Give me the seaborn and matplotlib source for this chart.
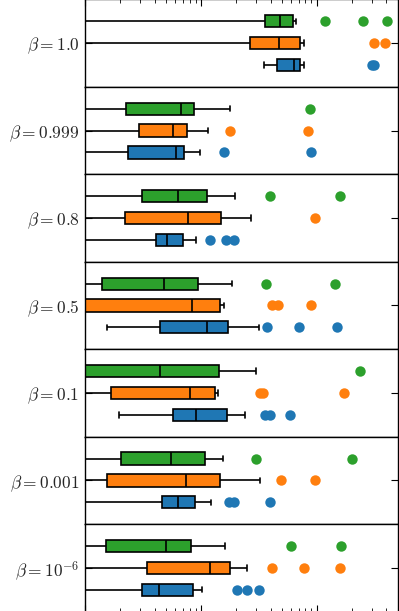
import matplotlib
matplotlib.use("Agg")
import matplotlib.pyplot as plt
import pandas as pd
import seaborn as sns

# one row of boxes per beta, top to bottom
betas = [r"$\beta = 1.0$", r"$\beta = 0.999$", r"$\beta = 0.8$", r"$\beta = 0.5$",
         r"$\beta = 0.1$", r"$\beta = 0.001$", r"$\beta = 10^{-6}$"]
series = ["C", "B", "A"]                       # green on top, blue at the bottom
colors = ["#2ca02c", "#ff7f0e", "#1f77b4"]

# box statistics, [green, orange, blue] for every beta
whisk_lo = [[0.05, 0.05, 3.49], [0.05, 0.05, 0.05], [0.05, 0.05, 0.05], [0.05, 0.03, 0.154],
            [0.02, 0.03, 0.195], [0.05, 0.05, 0.05], [0.05, 0.05, 0.05]]
q1 = [[3.58, 2.68, 4.55], [0.227, 0.290, 0.235], [0.310, 0.222, 0.409], [0.140, 0.07, 0.446],
      [0.06, 0.168, 0.577], [0.206, 0.155, 0.461], [0.151, 0.344, 0.310]]
med = [[4.83, 4.77, 6.42], [0.676, 0.570, 0.605], [0.634, 0.768, 0.506], [0.483, 0.831, 1.142],
       [0.441, 0.809, 0.900], [0.548, 0.738, 0.630], [0.496, 1.189, 0.437]]
q3 = [[6.25, 7.23, 7.18], [0.875, 0.757, 0.718], [1.133, 1.496, 0.704], [0.937, 1.478, 1.709],
      [1.438, 1.328, 1.675], [1.083, 1.466, 0.893], [0.815, 1.778, 0.848]]
whisk_hi = [[6.63, 7.83, 7.83], [1.80, 1.156, 0.98], [1.977, 2.71, 0.911], [1.876, 1.60, 3.16],
            [2.99, 1.421, 2.41], [1.569, 3.25, 1.22], [1.61, 2.48, 1.014]]
outliers = [
    [[11.7, 25.1, 40.7], [31.4, 38.8], [29.8, 31.3]],
    [[8.83], [1.77, 8.41], [1.60, 8.93]],
    [[3.93, 15.8], [9.61], [1.189, 1.666, 1.936]],
    [[3.66, 14.4], [4.15, 4.64, 8.88], [3.76, 7.10, 14.9]],
    [[23.9], [3.25, 3.42, 17.1], [3.58, 3.99, 5.89]],
    [[3.0, 20.2], [4.96, 9.75], [1.743, 1.924, 3.96]],
    [[5.97, 16.3], [4.15, 7.83, 15.9], [2.04, 2.48, 3.21]],
]


def sample(lo, a, m, b, hi, out):
    # 4k+1 values, so the quartiles land exactly on a, m, b
    k = len(out) + 1
    return [lo] + [a] * (2 * k - 1) + [m] * k + [b, hi] + list(out)


sns.set_theme(style="ticks")
plt.rcParams["mathtext.fontset"] = "cm"

fig, axes = plt.subplots(7, 1, figsize=(3.99, 6.11), dpi=100)
fig.subplots_adjust(left=0.213, right=0.9965, top=1.001, bottom=-0.001, hspace=0)

for i, ax in enumerate(axes):
    rows = []
    for j, name in enumerate(series):
        vals = sample(whisk_lo[i][j], q1[i][j], med[i][j], q3[i][j], whisk_hi[i][j], outliers[i][j])
        rows += [(name, v) for v in vals]
    df = pd.DataFrame(rows, columns=["series", "value"])

    for j, name in enumerate(series):
        sns.boxplot(data=df[df["series"] == name], x="value", y="series", order=series,
                    color=colors[j], saturation=1, width=0.56, linecolor="black", linewidth=1.2,
                    flierprops=dict(marker="o", markerfacecolor=colors[j], markeredgecolor="none",
                                    markersize=7.5),
                    capwidths=0.25, ax=ax)

    ax.set_xscale("log")
    ax.set_xlim(0.1, 50)
    ax.set_ylim(3.0, -1.0)
    ax.set_yticks([1])
    ax.set_yticklabels([betas[i]], fontsize=12.5)
    ax.set_xlabel("")
    ax.set_ylabel("")
    for s in ax.spines.values():
        s.set_color("black")
        s.set_linewidth(1.0)
    ax.tick_params(axis="both", which="both", direction="in", color="black",
                   top=(i == 0), bottom=(i == 6), labelbottom=False, labeltop=False,
                   left=True, right=True)
    ax.tick_params(which="major", length=5, width=0.8)
    ax.tick_params(which="minor", length=3, width=0.6)
    ax.tick_params(axis="y", pad=4)

fig.savefig("out.png", dpi=100)
